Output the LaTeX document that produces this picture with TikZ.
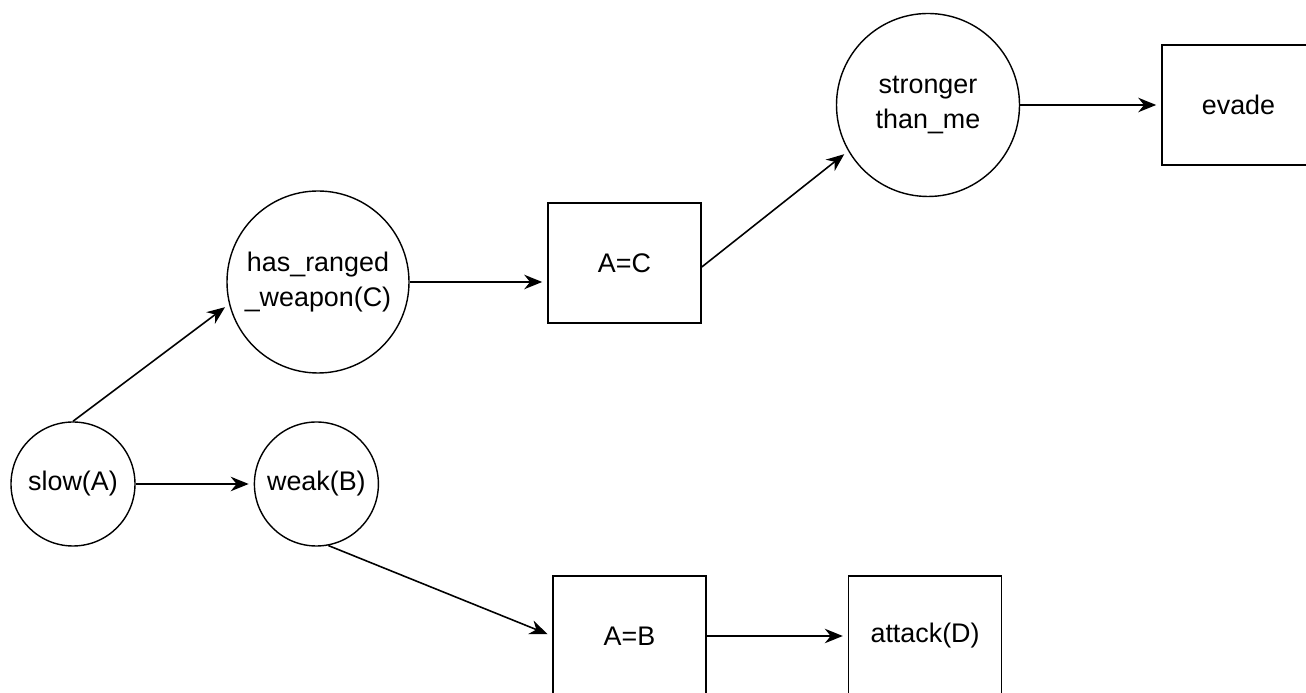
\documentclass[tikz,border=0pt]{standalone}
\usepackage{fontspec}
\setmainfont{Liberation Sans}
\usetikzlibrary{positioning, arrows.meta}
\tikzset{
  state/.style={circle, draw=black, line width=0.8pt, inner sep=0pt, align=center},
  action/.style={rectangle, draw=black, line width=0.9pt, minimum width=3.06cm, minimum height=2.4cm, align=center},
  arrow/.style={line width=0.9pt, -{Stealth[length=3.6mm, width=2.9mm]}, shorten >=1mm}
}
\begin{document}
\begin{tikzpicture}[every node/.style={font=\fontsize{15.3pt}{19.5pt}\selectfont}]
    \useasboundingbox (0,0) rectangle (26.12,13.86);

    \node (slow) [state, minimum size=2.48cm] at (1.46,4.18) {slow(A)};
    \node (weak) [state, minimum size=2.48cm, right=2.36cm of slow] {weak(B)};
    \node (ranged) [state, minimum size=3.64cm] at (6.36,8.22) {has\_ranged\\\_weapon(C)};
    \node (eqc) [action] at (12.49,8.6) {A=C};
    \node (stronger) [state, minimum size=3.66cm] at (18.56,11.76) {stronger\\than\_me};
    \node (evade) [action, minimum width=3.4cm, right=2.82cm of stronger.east, anchor=west] {\hspace*{-0.34cm}evade};
    \node (eqb) [action] at (12.59,1.14) {A=B};
    \node (attack) [action, right=2.82cm of eqb] {attack(D)};

    % oberer Zweig
    \draw [arrow] (slow.north) -- (ranged.194);
    \draw [arrow] (ranged.east) -- (ranged.east -| eqc.west);
    \draw [arrow] ([yshift=-0.08cm]eqc.east) -- (stronger.210);
    \draw [arrow] (stronger) -- (evade);

    % unterer Zweig
    \draw [arrow] (slow) -- (weak);
    \draw [arrow] (weak.-79) -- (eqb.west);
    \draw [arrow] (eqb) -- (attack);

\end{tikzpicture}
\end{document}
